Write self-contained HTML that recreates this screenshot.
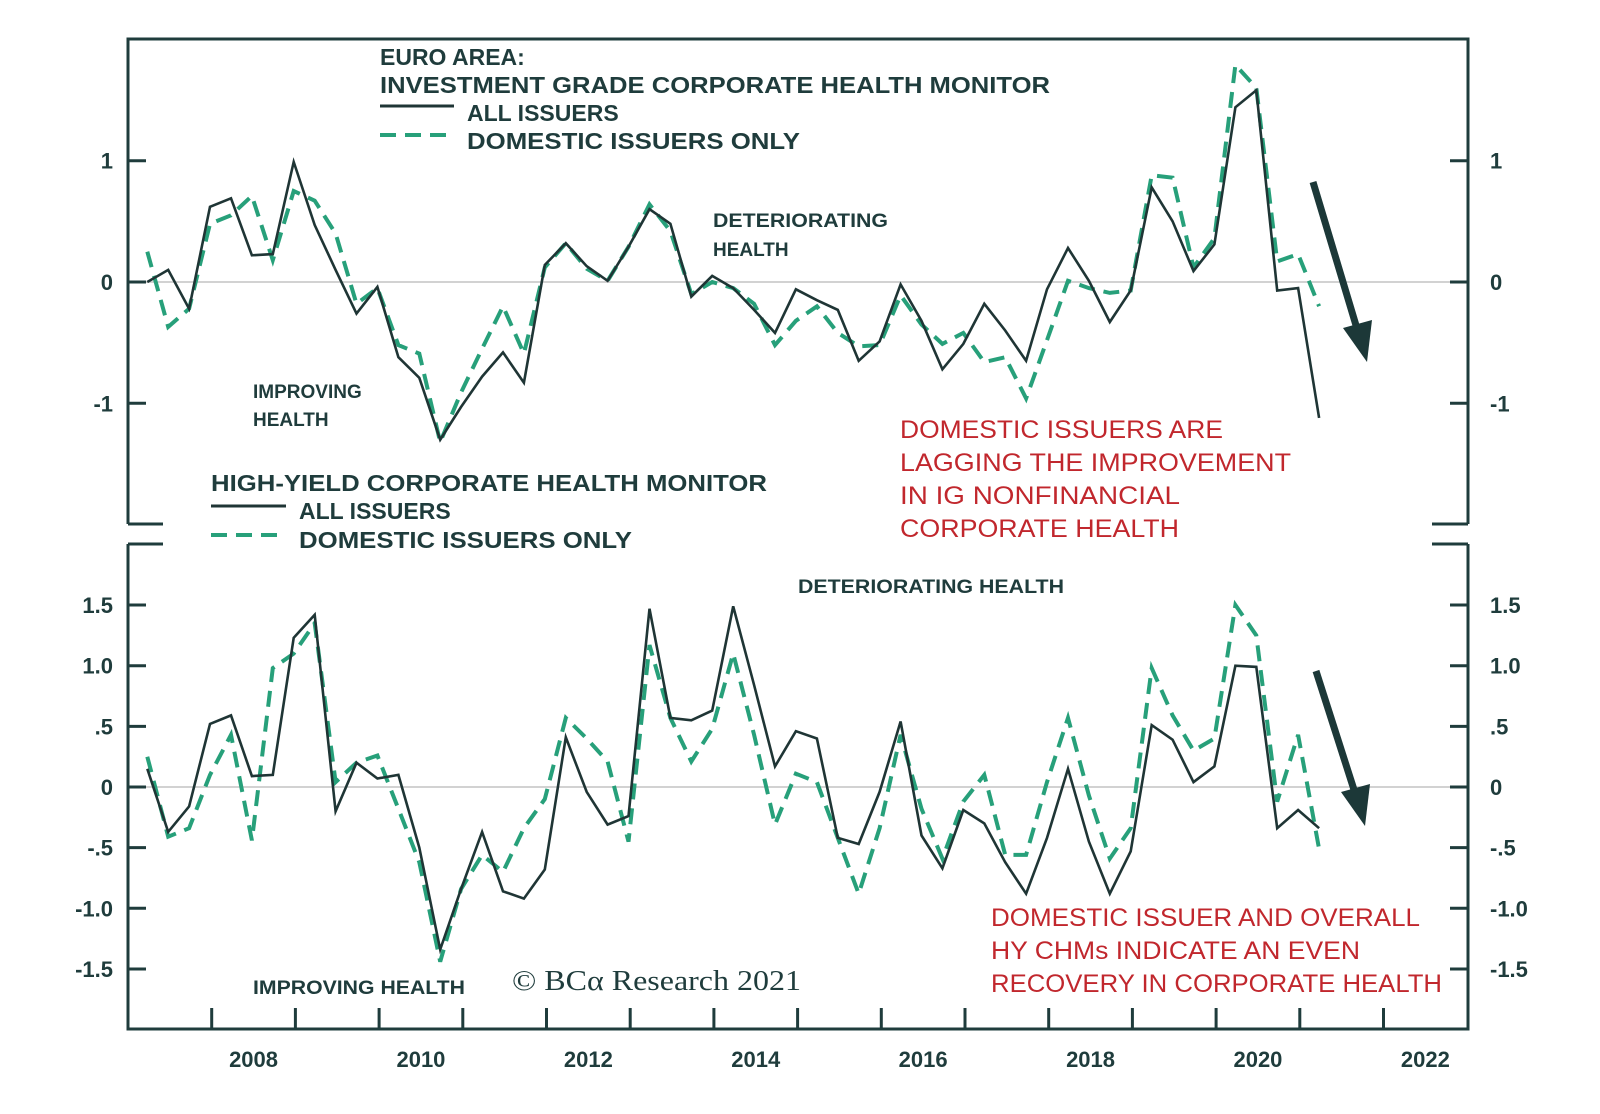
<!DOCTYPE html>
<html><head><meta charset="utf-8">
<style>
html,body{margin:0;padding:0;background:#fff;}
svg{display:block;font-family:"Liberation Sans",Arial,sans-serif;}
</style></head>
<body>
<svg id="chart" width="1600" height="1114" viewBox="0 0 1600 1114" xmlns="http://www.w3.org/2000/svg">
<rect x="0" y="0" width="1600" height="1114" fill="#fff"/>
<g id="frame" stroke="#1f3c3c" stroke-width="3" fill="none">
  <path d="M128,524 L128,39 L1468,39 L1468,524" />
  <path d="M128,524 L163,524 M1432,524 L1468,524" />
  <path d="M128,544 L163,544 M1432,544 L1468,544" />
  <path d="M128,544 L128,1029 L1468,1029 L1468,544" />
</g>
<g id="axes"></g>
<g id="series"></g>
<g id="texts" font-weight="bold" fill="#1f3c3c">
  <text x="380" y="65" font-size="23">EURO AREA:</text>
  <text x="380" y="93" font-size="23" textLength="670" lengthAdjust="spacingAndGlyphs">INVESTMENT GRADE CORPORATE HEALTH MONITOR</text>
  <line x1="380" y1="106" x2="454" y2="106" stroke="#1f3535" stroke-width="3"/>
  <text x="467" y="121" font-size="23">ALL ISSUERS</text>
  <line x1="380" y1="135" x2="454" y2="135" stroke="#27a07a" stroke-width="4" stroke-dasharray="16,9"/>
  <text x="467" y="149" font-size="23" textLength="333" lengthAdjust="spacingAndGlyphs">DOMESTIC ISSUERS ONLY</text>
  <text x="713" y="227" font-size="19" textLength="175" lengthAdjust="spacingAndGlyphs">DETERIORATING</text>
  <text x="713" y="256" font-size="19">HEALTH</text>
  <text x="253" y="398" font-size="19">IMPROVING</text>
  <text x="253" y="426" font-size="19">HEALTH</text>
  <g fill="#c1272d" font-weight="normal" font-size="25">
    <text x="900" y="438" textLength="323" lengthAdjust="spacingAndGlyphs">DOMESTIC ISSUERS ARE</text>
    <text x="900" y="471" textLength="391" lengthAdjust="spacingAndGlyphs">LAGGING THE IMPROVEMENT</text>
    <text x="900" y="504" textLength="280" lengthAdjust="spacingAndGlyphs">IN IG NONFINANCIAL</text>
    <text x="900" y="537" textLength="279" lengthAdjust="spacingAndGlyphs">CORPORATE HEALTH</text>
  </g>
  <text x="211" y="491" font-size="23" textLength="556" lengthAdjust="spacingAndGlyphs">HIGH-YIELD CORPORATE HEALTH MONITOR</text>
  <line x1="211" y1="506" x2="286" y2="506" stroke="#1f3535" stroke-width="3"/>
  <text x="299" y="519" font-size="23">ALL ISSUERS</text>
  <line x1="211" y1="535" x2="286" y2="535" stroke="#27a07a" stroke-width="4" stroke-dasharray="16,9"/>
  <text x="299" y="548" font-size="23" textLength="333" lengthAdjust="spacingAndGlyphs">DOMESTIC ISSUERS ONLY</text>
  <text x="798" y="593" font-size="19" textLength="266" lengthAdjust="spacingAndGlyphs">DETERIORATING HEALTH</text>
  <text x="253" y="994" font-size="19" textLength="212" lengthAdjust="spacingAndGlyphs">IMPROVING HEALTH</text>
  <text x="512" y="990" font-size="28" font-weight="normal" font-family="'Liberation Serif',serif" textLength="289" lengthAdjust="spacingAndGlyphs">© BCα Research 2021</text>
  <g fill="#c1272d" font-weight="normal" font-size="25">
    <text x="991" y="926" textLength="429" lengthAdjust="spacingAndGlyphs">DOMESTIC ISSUER AND OVERALL</text>
    <text x="991" y="959" textLength="369" lengthAdjust="spacingAndGlyphs">HY CHMs INDICATE AN EVEN</text>
    <text x="991" y="992" textLength="451" lengthAdjust="spacingAndGlyphs">RECOVERY IN CORPORATE HEALTH</text>
  </g>
</g>
<g fill="#1c3838" stroke="#1c3838">
  <line x1="1313" y1="182" x2="1358" y2="332" stroke-width="7"/>
  <polygon points="1367,362 1343,328 1372,320" stroke="none"/>
  <line x1="1316" y1="671" x2="1356" y2="796" stroke-width="7"/>
  <polygon points="1365,826 1341,792 1370,784" stroke="none"/>
</g>
</svg>
<script>
// ---- data (quarterly, starting 2007.23) ----
const quarterStart = 2007.23;
const years = [2008, 2010, 2012, 2014, 2016, 2018, 2020, 2022];
const igTicks = [1, 0, -1];
const igTickLabels = ["1", "0", "-1"];
const hyTicks = [1.5, 1.0, 0.5, 0, -0.5, -1.0, -1.5];
const hyTickLabels = ["1.5", "1.0", ".5", "0", "-.5", "-1.0", "-1.5"];
const igAll = [0.0,0.1,-0.22,0.62,0.69,0.22,0.23,0.99,0.47,0.1,-0.26,-0.04,-0.62,-0.79,-1.3,-1.03,-0.78,-0.58,-0.83,0.14,0.32,0.13,0.01,0.29,0.6,0.48,-0.12,0.05,-0.05,-0.23,-0.42,-0.06,-0.15,-0.23,-0.65,-0.49,-0.02,-0.32,-0.72,-0.51,-0.18,-0.4,-0.65,-0.06,0.28,0.01,-0.33,-0.07,0.78,0.5,0.09,0.31,1.44,1.58,-0.07,-0.05,-1.12];
const igDomestic = [0.25,-0.37,-0.22,0.48,0.55,0.71,0.18,0.75,0.67,0.4,-0.18,-0.05,-0.52,-0.59,-1.32,-0.91,-0.55,-0.2,-0.59,0.12,0.32,0.11,0.01,0.29,0.64,0.42,-0.1,0.0,-0.05,-0.18,-0.52,-0.32,-0.2,-0.42,-0.53,-0.52,-0.11,-0.35,-0.51,-0.42,-0.66,-0.62,-0.96,-0.48,0.01,-0.05,-0.09,-0.07,0.88,0.86,0.12,0.36,1.79,1.6,0.17,0.23,-0.2];
const hyAll = [0.15,-0.37,-0.16,0.52,0.59,0.09,0.1,1.23,1.42,-0.2,0.2,0.07,0.1,-0.5,-1.34,-0.84,-0.37,-0.86,-0.92,-0.68,0.41,-0.04,-0.31,-0.24,1.47,0.57,0.55,0.63,1.49,0.84,0.17,0.46,0.4,-0.42,-0.47,-0.04,0.54,-0.4,-0.67,-0.19,-0.3,-0.62,-0.88,-0.42,0.15,-0.45,-0.88,-0.53,0.51,0.39,0.04,0.17,1.0,0.99,-0.34,-0.19,-0.34];
const hyDomestic = [0.25,-0.41,-0.34,0.1,0.43,-0.44,0.98,1.1,1.35,0.04,0.2,0.26,-0.18,-0.62,-1.44,-0.84,-0.56,-0.7,-0.34,-0.1,0.57,0.4,0.21,-0.45,1.17,0.57,0.21,0.48,1.1,0.43,-0.31,0.11,0.04,-0.42,-0.88,-0.34,0.43,-0.18,-0.59,-0.12,0.1,-0.56,-0.56,0.04,0.57,-0.07,-0.59,-0.34,0.98,0.59,0.3,0.4,1.5,1.25,-0.12,0.43,-0.51];

// ---- axis functions ----
const NS = "http://www.w3.org/2000/svg";
const pxPerYear = 83.7, x0 = 128, y2007 = 2007;
function xScale(t){ return x0 + (t - y2007) * pxPerYear; }
function xIndex(i){ return xScale(quarterStart + i * 0.25); }
const pxPerUnit = 121.3;
function yTop(v){ return 282 - v * pxPerUnit; }
function yBot(v){ return 787 - v * pxPerUnit; }

const axes = document.getElementById('axes');
const series = document.getElementById('series');
function mk(tag, attrs, parent){
  const e = document.createElementNS(NS, tag);
  for (const k in attrs) e.setAttribute(k, attrs[k]);
  parent.appendChild(e);
  return e;
}

// zero lines
let z1 = mk('line', {x1:128, x2:1468, y1:yTop(0), y2:yTop(0), stroke:'#c4c4c4', 'stroke-width':1.5}, axes);


let z2 = mk('line', {x1:128, x2:1468, y1:yBot(0), y2:yBot(0), stroke:'#c4c4c4', 'stroke-width':1.5}, axes);



// y ticks
function yTicks(vals, labels, ys, name){
  vals.forEach((v, k) => {
    const y = ys(v);
    const tl = mk('line', {x1:128, x2:146, y1:y, y2:y, stroke:'#1f3c3c', 'stroke-width':3}, axes);
    
    
    const tr = mk('line', {x1:1450, x2:1468, y1:y, y2:y, stroke:'#1f3c3c', 'stroke-width':3}, axes);
    
    
    const a = mk('text', {x:113, y:y + 8, 'text-anchor':'end', 'font-size':22, 'font-weight':'bold', fill:'#1f3c3c'}, axes);
    a.textContent = labels[k];
    
    
    const b = mk('text', {x:1490, y:y + 8, 'text-anchor':'start', 'font-size':22, 'font-weight':'bold', fill:'#1f3c3c'}, axes);
    b.textContent = labels[k];
    
    
  });
}
yTicks(igTicks, igTickLabels, yTop, 'ig-y');
yTicks(hyTicks, hyTickLabels, yBot, 'hy-y');

// x ticks (year boundaries) and labels
for (let yr = 2008; yr <= 2022; yr++){
  const x = xScale(yr);
  const t = mk('line', {x1:x, x2:x, y1:1008, y2:1029, stroke:'#1f3c3c', 'stroke-width':3}, axes);
  
  
}
years.forEach(yr => {
  const lab = mk('text', {x:xScale(yr + 0.5), y:1067, 'text-anchor':'middle', 'font-size':22, 'font-weight':'bold', fill:'#1f3c3c'}, axes);
  lab.textContent = String(yr);
  
  
});

// series
function drawLine(vals, ys, dashed, name){
  const d = vals.map((v, i) => (i ? 'L' : 'M') + xIndex(i).toFixed(1) + ',' + ys(v).toFixed(1)).join(' ');
  const p = mk('path', {d:d, fill:'none', stroke: dashed ? '#27a07a' : '#1f3535', 'stroke-width': dashed ? 4 : 2.6, 'stroke-linejoin':'miter', 'stroke-dasharray': dashed ? '16,9' : 'none'}, series);
  
  
}
drawLine(igDomestic, yTop, true, 'ig-domestic-line');
drawLine(igAll, yTop, false, 'ig-all-issuers-line');
drawLine(hyDomestic, yBot, true, 'hy-domestic-line');
drawLine(hyAll, yBot, false, 'hy-all-issuers-line');
</script>
</body></html>
